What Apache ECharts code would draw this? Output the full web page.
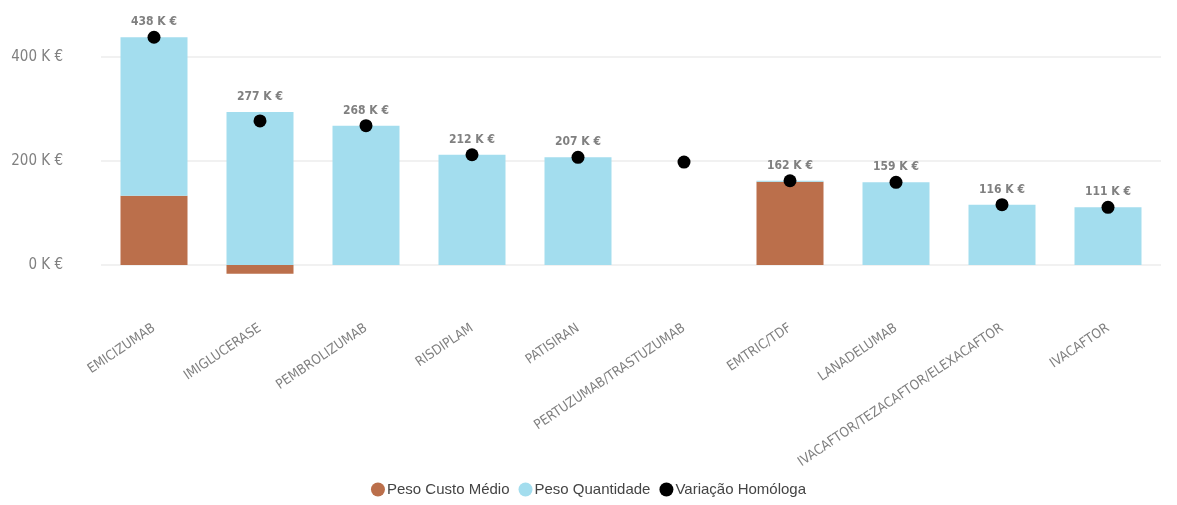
<!DOCTYPE html>
<html><head><meta charset="utf-8">
<script src="https://cdn.jsdelivr.net/npm/echarts@6/dist/echarts.min.js"></script>
<style>html,body{margin:0;padding:0;background:#fff}#c{width:1177px;height:505px}</style>
</head><body><div id="c"></div>
<script>
const categories = ['EMICIZUMAB','IMIGLUCERASE','PEMBROLIZUMAB','RISDIPLAM','PATISIRAN','PERTUZUMAB/TRASTUZUMAB','EMTRIC/TDF','LANADELUMAB','IVACAFTOR/TEZACAFTOR/ELEXACAFTOR','IVACAFTOR'];
const pesoCustoMedio = [133, -17, null, null, null, null, 160, null, null, null];
const pesoQuantidade = [305, 294, 268, 212, 207, null, 2, 159, 116, 111];
const totalLabels = [438, 277, 268, 212, 207, null, 162, 159, 116, 111];
const variacaoHomologa = [438, 277, 268, 212, 207, 198, 162, 159, 116, 111];
const yTickLabels = [0, 200, 400];

const chart = echarts.init(document.getElementById('c'));
const lblFont = 'DejaVu Sans Condensed';
chart.setOption({
  animation: false,
  grid: { left: 101, right: 16, top: 5, bottom: 188 },
  legend: {
    bottom: 3, left: 'center', icon: 'circle', itemWidth: 14, itemHeight: 14, itemGap: 9,
    textStyle: { fontFamily: 'Liberation Sans', fontSize: 15, color: '#444', padding: [0, 0, 0, -3] },
    data: ['Peso Custo Médio', 'Peso Quantidade', 'Variação Homóloga']
  },
  xAxis: {
    type: 'category', data: categories,
    axisLine: { show: false }, axisTick: { show: false },
    axisLabel: { rotate: 34, interval: 0, margin: 10, color: '#808080', fontFamily: lblFont, fontSize: 13.5 }
  },
  yAxis: {
    type: 'value', min: -100, max: 500, interval: 100,
    axisLine: { show: false }, axisTick: { show: false },
    splitLine: { lineStyle: { color: ['rgba(0,0,0,0)', '#ececec'], width: 1.5 } },
    axisLabel: {
      margin: 38, color: '#808080', fontFamily: lblFont, fontSize: 15,
      formatter: v => yTickLabels.indexOf(v) >= 0 ? v + ' K €' : ''
    }
  },
  series: [
    { name: 'Peso Custo Médio', type: 'bar', stack: 't', barWidth: 67, data: pesoCustoMedio,
      itemStyle: { color: '#BB6F4B' } },
    { name: 'Peso Quantidade', type: 'bar', stack: 't', barWidth: 67, data: pesoQuantidade,
      itemStyle: { color: '#A3DDEE' },
      label: { show: true, position: 'top', distance: 9, color: '#808080', fontFamily: lblFont, fontSize: 12, fontWeight: 'bold',
        formatter: p => totalLabels[p.dataIndex] == null ? '' : totalLabels[p.dataIndex] + ' K €' } },
    { name: 'Variação Homóloga', type: 'scatter', symbol: 'circle', symbolSize: 13, data: variacaoHomologa,
      itemStyle: { color: '#000', opacity: 1 }, z: 5 }
  ]
});
</script></body></html>
